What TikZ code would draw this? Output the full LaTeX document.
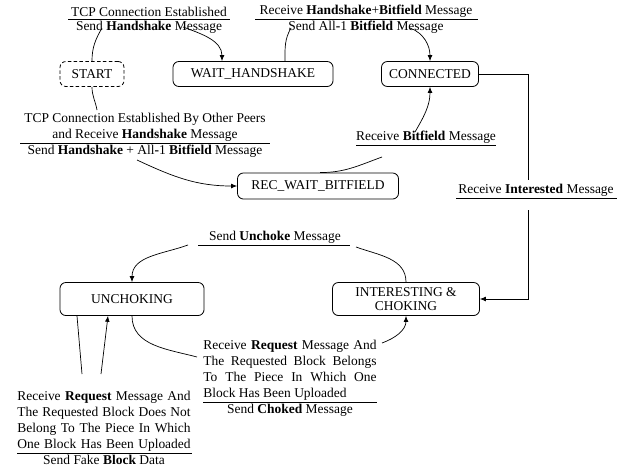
\documentclass[tikz,border=0pt]{standalone}
\usepackage{fontspec}
\setmainfont{Liberation Serif}
\usetikzlibrary{calc,arrows.meta}
\tikzset{
  state/.style={draw,rounded corners=5pt,minimum height=0.75cm,inner sep=1pt,line width=0.7pt},
  msg/.style={inner sep=1.5pt,align=center},
  ln/.style={line width=0.6pt},
  tr/.style={line width=0.6pt,-{Latex[length=5pt,width=4pt]}}
}
\newcommand{\jline}[1]{\makebox[5.2cm][s]{#1}}

\begin{document}
\begin{tikzpicture}[x=0.03cm,y=-0.03cm,font=\fontsize{11.5}{13.6}\selectfont]
\useasboundingbox (0,0) rectangle (626,472);
\node[state,densely dashed,minimum width=1.92cm] (START) at (92,74) {START};
\node[state,minimum width=4.8cm] (WAIT) at (253,74) {WAIT\_HANDSHAKE};
\node[state,minimum width=2.91cm] (CONN) at (430,74) {CONNECTED};
\node[state,minimum width=4.83cm,minimum height=0.78cm] (REC) at (318,186) {REC\_WAIT\_BITFIELD};
\node[state,minimum width=4.32cm,minimum height=0.99cm] (UNCH) at (132,299) {UNCHOKING};
\node[state,minimum width=4.41cm,minimum height=0.99cm,align=center,font=\fontsize{11.5}{12}\selectfont] (INT) at (406,299) {INTERESTING \&\\CHOKING};

\foreach \xa/\xb/\y in {68/230/19,255/478/19,20/270/143,356/496/145,456/617/198,198/350/245,203/377/402,17/192/453}{\draw[ln] (\xa,\y) -- (\xb,\y);}

\node[msg,anchor=south] (m1t) at (149,19) {TCP Connection Established};
\node[msg,anchor=north] (m1b) at (149,19) {Send \textbf{Handshake} Message};
\node[msg,anchor=south] (m2t) at (366,19) {Receive \textbf{Handshake}+\textbf{Bitfield} Message};
\node[msg,anchor=north] (m2b) at (366,19) {Send All\textbf{-}1 \textbf{Bitfield} Message};
\node[msg,anchor=south] (m3t) at (145,143) {TCP Connection Established By Other Peers\\and Receive \textbf{Handshake} Message};
\node[msg,anchor=north] (m3b) at (145,143) {Send \textbf{Handshake} + All\textbf{-}1 \textbf{Bitfield} Message};
\node[msg,anchor=south] (m4t) at (426,145) {Receive \textbf{Bitfield} Message};
\node[msg,anchor=south] (m5t) at (536,198) {Receive \textbf{Interested} Message};
\node[msg,anchor=south] (m6t) at (275,245) {Send \textbf{Unchoke} Message};
\node[msg,anchor=south,align=left] (m7t) at (290,402) {\jline{Receive \textbf{Request} Message And}\\\jline{The Requested Block Belongs}\\\jline{To The Piece In Which One}\\Block Has Been Uploaded};
\node[msg,anchor=north] (m7b) at (290,402) {Send \textbf{Choked} Message};
\node[msg,anchor=south,align=left] (m8t) at (104,453) {\jline{Receive \textbf{Request} Message And}\\\jline{The Requested Block Does Not}\\\jline{Belong To The Piece In Which}\\\jline{One Block Has Been Uploaded}};
\node[msg,anchor=north] (m8b) at (104,453) {Send Fake \textbf{Block} Data};

\coordinate (s1) at (102,28); \coordinate (e1) at (183,27);
\coordinate (s2) at (291,28); \coordinate (e2) at (410,28);
\coordinate (s3) at (97,110); \coordinate (e3) at (137,160);
\coordinate (s4) at (382,157); \coordinate (e4) at (415,132);
\coordinate (s5) at (528,180); \coordinate (e5) at (528,210);
\coordinate (s6) at (356,247); \coordinate (e6) at (188,245);
\coordinate (s7) at (197,357); \coordinate (e7) at (382,343);
\coordinate (s8) at (82,374); \coordinate (e8) at (101,374);

\draw[ln] (START.north) to[out=90,in=240] (s1);
\draw[tr] (e1) to[out=-20,in=90] ($(WAIT.north)+(-31,0)$);
\draw[ln] ($(WAIT.north)+(32,0)$) to[out=90,in=240] (s2);
\draw[tr] (e2) to[out=-20,in=90] (CONN.north);
\draw[ln] (START.south) to[out=-90,in=100] (s3);
\draw[tr] (e3) to[out=-25,in=180] (REC.west);
\draw[ln] ($(REC.north)+(2,0)$) to[out=0,in=200] (s4);
\draw[tr] (e4) to[out=60,in=-90] (CONN.south);
\draw[ln] (CONN.east) -| (s5);
\draw[tr] (e5) |- (INT.east);
\draw[ln] (INT.north) to[out=90,in=-20] (s6);
\draw[tr] (e6) to[out=200,in=90] (UNCH.north);
\draw[ln] (UNCH.south) to[out=-90,in=165] (s7);
\draw[tr] (e7) to[out=20,in=-90] (INT.south);
\draw[ln] ($(UNCH.south)+(-55,0)$) -- (s8);
\draw[tr] (e8) -- ($(UNCH.south)+(-24,0)$);
\end{tikzpicture}
\end{document}
